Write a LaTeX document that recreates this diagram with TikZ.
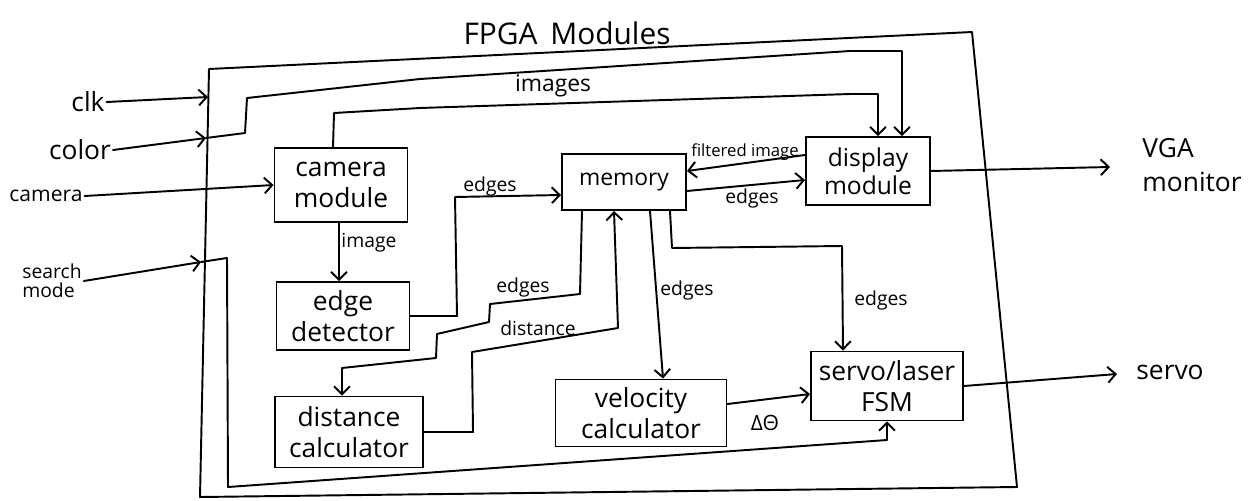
\documentclass[tikz,border=0pt]{standalone}
\usepackage{fontspec}
\setmainfont{Open Sans}
\usetikzlibrary{arrows.meta}
\tikzset{
  wire/.style={line width=1.1pt, line join=round, line cap=round},
  arr/.style={wire, -{Straight Barb[length=4.5pt,width=9pt,line width=1.1pt]}},
  blk/.style={draw, line width=1.1pt, align=center, inner sep=2pt, font=\fontsize{15}{18}\selectfont},
  lbl/.style={inner sep=1pt, font=\fontsize{11}{13}\selectfont},
  io/.style={inner sep=1pt, align=left, font=\fontsize{15}{17}\selectfont}
}
\begin{document}
\begin{tikzpicture}[x=0.02cm,y=-0.02cm]
\useasboundingbox (0,0) rectangle (1256,500);
% outer FPGA box
\draw[wire] (209,69) -- (972,32) -- (1017,487) -- (200,497) -- cycle;
\node[inner sep=0pt, font=\fontsize{17}{20}\selectfont] (title) at (567,33) {FPGA\, Modules};

% blocks
\node[blk, minimum width=2.66cm, minimum height=1.48cm] (cam) at (341,185) {camera\\module};
\node[blk, minimum width=2.66cm, minimum height=1.36cm] (edge) at (343,316) {edge\\detector};
\node[blk, minimum width=2.48cm, minimum height=1.12cm, font=\fontsize{13}{15}\selectfont] (mem) at (624,182) {memory};
\node[blk, minimum width=2.48cm, minimum height=1.36cm, font=\fontsize{14}{16}\selectfont] (disp) at (868,171) {display\\module};
\node[blk, minimum width=2.96cm, minimum height=1.42cm] (dist) at (349,432) {distance\\calculator};
\node[blk, minimum width=3.42cm, minimum height=1.34cm] (vel) at (641,413) {velocity\\calculator};
\node[blk, minimum width=3.04cm, minimum height=1.38cm] (fsm) at (887,386) {servo/laser\\FSM};

% external inputs / outputs
\node[io] (clk) at (88,102) {clk};
\node[io] (color) at (80,150) {color};
\node[io, font=\fontsize{12}{14}\selectfont] (camin) at (46,196) {camera};
\node[io, font=\fontsize{11}{11}\selectfont] (search) at (52,281) {search\\mode};
\node[io, font=\fontsize{15}{19}\selectfont] (vga) at (1192,165) {VGA\\monitor};
\node[io] (servo) at (1170,372) {servo};

\coordinate (clkin) at (208,97);
\coordinate (colin) at (206,138);
\coordinate (smin) at (201,262);
\coordinate (vgaend) at (1110,167);
\coordinate (servoend) at (1117,374);

% inputs
\draw[arr] (clk.east) -- (clkin);
\draw[arr] (color.east) -- (colin);
\draw[arr] (camin.east) -- (cam.west);
\draw[arr] (search.east) -- (smin);

% color -> display
\draw[arr] (colin) -- (245,133) -- (247,98) -- (420,79) -- (850,51) -- (902,51) -- (disp.north -| 902,0);
% images: camera -> display
\draw[arr] (cam.north -| 333,0) -- (334,113) -- (420,108) -- (850,94) -- (878,94) -- (disp.north -| 878,0);
\node[lbl, font=\fontsize{13}{15}\selectfont] (limages) at (553,86) {images};

% camera -> edge detector
\draw[arr] (cam.south -| 339,0) -- (edge.north -| 339,0);
\node[lbl] (limage) at (369,243) {image};

% edge detector -> memory
\draw[arr] (edge.east) -- (457,316) -- (455,197) -- (mem.west |- 0,195);
\node[lbl] (ledges1) at (490,186) {edges};

% display <-> memory
\draw[arr] (disp.west |- 0,155) -- (mem.east |- 0,171);
\node[lbl, font=\fontsize{9.5}{11}\selectfont] (lfilt) at (745,152) {filtered image};
\draw[arr] (mem.east |- 0,191) -- (disp.west |- 0,180);
\node[lbl] (ledges2) at (752,198) {edges};

% display -> VGA
\draw[arr] (disp.east) -- (vgaend);

% memory -> distance calculator
\draw[arr] (mem.south -| 582,0) -- (580,294) -- (490,304) -- (489,322) -- (437,334) -- (436,358) -- (342,368) -- (dist.north -| 342,0);
\node[lbl] (ledges3) at (523,287) {edges};

% distance calculator -> memory
\draw[arr] (dist.east) -- (473,432) -- (472,352) -- (618,328) -- (mem.south -| 614,0);
\node[lbl] (ldist) at (538,328) {distance};

% memory -> velocity calculator
\draw[arr] (mem.south -| 650,0) -- (vel.north -| 663,0);
\node[lbl] (ledges4) at (687,290) {edges};

% memory -> servo FSM
\draw[arr] (mem.south -| 670,0) -- (672,248) -- (842,246) -- (fsm.north -| 843,0);
\node[lbl] (ledges5) at (881,300) {edges};

% velocity -> FSM
\draw[arr] (vel.east |- 0,404) -- (fsm.west |- 0,394);
\node[lbl, font=\fontsize{12}{14}\selectfont] (ldt) at (765,423) {ΔΘ};

% search mode -> FSM
\draw[arr] (smin) -- (227,258) -- (228,487) -- (887,440) -- (fsm.south -| 887,0);

% FSM -> servo
\draw[arr] (fsm.east) -- (servoend);
\end{tikzpicture}
\end{document}
